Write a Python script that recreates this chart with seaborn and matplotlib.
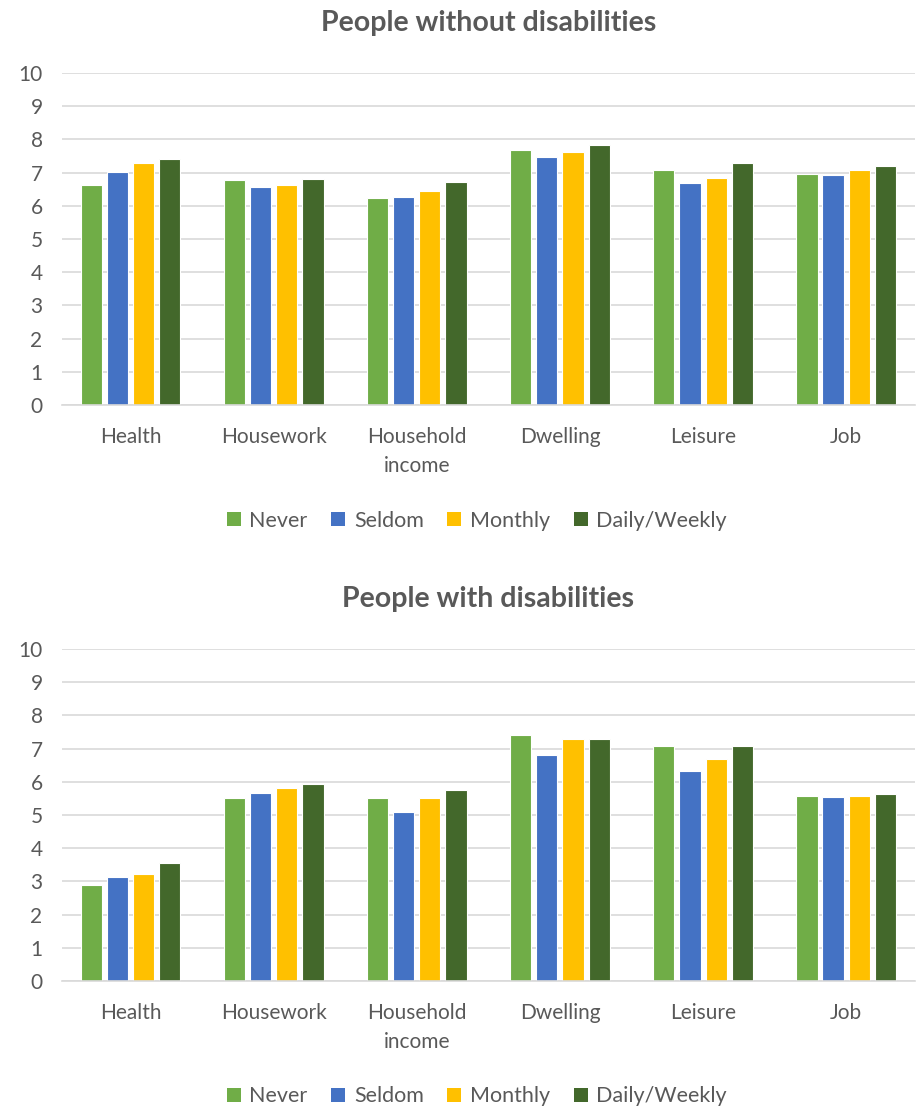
import matplotlib
matplotlib.use("Agg")
import matplotlib.pyplot as plt
from matplotlib.patches import Patch
import seaborn as sns
import pandas as pd

categories = ["Health", "Housework", "Household\nincome", "Dwelling", "Leisure", "Job"]
groups = ["Never", "Seldom", "Monthly", "Daily/Weekly"]

# rows = groups, columns = categories
without_never = [6.62, 6.77, 6.23, 7.69, 7.08, 6.97]
without_seldom = [7.03, 6.56, 6.25, 7.48, 6.68, 6.94]
without_monthly = [7.28, 6.64, 6.46, 7.63, 6.84, 7.08]
without_daily = [7.40, 6.82, 6.71, 7.82, 7.28, 7.20]

with_never = [2.89, 5.50, 5.50, 7.40, 7.07, 5.58]
with_seldom = [3.13, 5.67, 5.08, 6.82, 6.32, 5.55]
with_monthly = [3.23, 5.82, 5.50, 7.28, 6.69, 5.56]
with_daily = [3.55, 5.92, 5.74, 7.30, 7.07, 5.63]

colors = ["#70AD47", "#4472C4", "#FFC000", "#43682B"]
text_col = "#595959"


def long_df(series):
    rows = []
    for g, vals in zip(groups, series):
        for c, v in zip(categories, vals):
            rows.append({"category": c, "group": g, "value": v})
    return pd.DataFrame(rows)


panels = [
    ("People without disabilities",
     [without_never, without_seldom, without_monthly, without_daily],
     [0.0676, 0.6348, 0.930, 0.2994], 0.504),
    ("People with disabilities",
     [with_never, with_seldom, with_monthly, with_daily],
     [0.0676, 0.1154, 0.930, 0.2994], -0.015),
]

sns.set_style("white")
plt.rcParams["font.family"] = ["Lato", "DejaVu Sans"]

fig = plt.figure(figsize=(9.17, 11.09), dpi=100)

for title, series, rect, leg_y in panels:
    ax = fig.add_axes(rect)
    df = long_df(series)
    sns.barplot(data=df, x="category", y="value", hue="group",
                hue_order=groups, palette=colors, saturation=1,
                width=0.73, gap=0.19,
                edgecolor="white", linewidth=0.8, legend=False, ax=ax)
    ax.set_ylim(0, 10)
    ax.set_yticks(range(0, 11))
    ax.set_xlim(-0.48, len(categories) - 0.52)
    ax.yaxis.grid(True, color="#D9D9D9", linewidth=1.2)
    ax.set_axisbelow(True)
    for s in ["top", "right", "left"]:
        ax.spines[s].set_visible(False)
    ax.spines["bottom"].set_color("#D9D9D9")
    ax.spines["bottom"].set_linewidth(1.2)
    ax.tick_params(axis="both", length=0, labelsize=15, colors=text_col)
    ax.tick_params(axis="x", pad=16)
    ax.tick_params(axis="y", pad=14)
    for lab in ax.get_xticklabels():
        lab.set_linespacing(1.55)
    ax.set_xlabel("")
    ax.set_ylabel("")
    ax.set_title(title, fontsize=20.5, fontweight="bold", color=text_col, pad=30)

    handles = [Patch(facecolor=c, edgecolor="none") for c in colors]
    fig.legend(handles, groups, loc="lower center", bbox_to_anchor=(0.52, leg_y),
               ncol=4, frameon=False, fontsize=15.5, handlelength=0.65,
               handleheight=0.65, handletextpad=0.4, columnspacing=1.1,
               labelcolor=text_col)

fig.savefig("out.png", dpi=100, facecolor="white")
